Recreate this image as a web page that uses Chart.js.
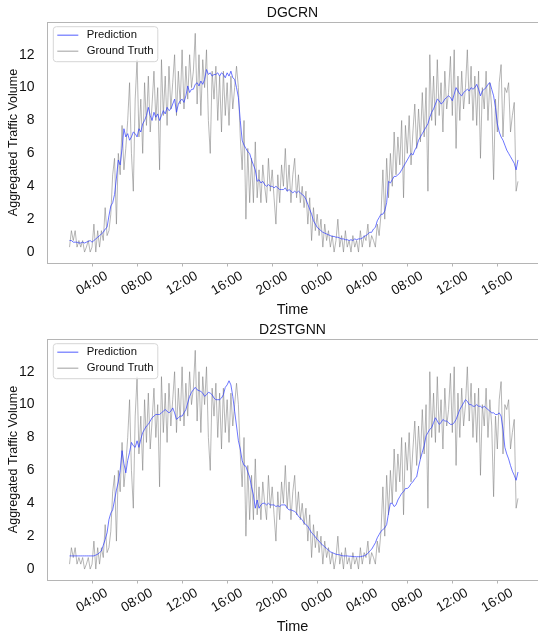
<!DOCTYPE html>
<html>
<head>
<meta charset="utf-8">
<script src="https://cdn.jsdelivr.net/npm/chart.js@4.4.1/dist/chart.umd.min.js"></script>
<style>
  html, body { margin: 0; padding: 0; background: #fff; }
  #wrap { position: relative; width: 538px; height: 638px; overflow: hidden; }
  canvas { position: absolute; left: 0; }
  #c1 { top: 0; }
  #c2 { top: 317px; }
</style>
</head>
<body>
<div id="wrap">
  <canvas id="c1" width="538" height="319"></canvas>
  <canvas id="c2" width="538" height="319"></canvas>
</div>
<script>
// 10-minute samples, first one at 02:00 on day 1 (hours counted from midnight)
const startHour = 2;
const stepMinutes = 10;

// one row per hour, 02:00 ... 17:50 next day
const groundTruth = [
  0.3, 1.3, 0.7, 1.3, 0.3, 0.7,
  0.3, 0.7, 0.0, 0.3, 0.7, 0.0,
  0.3, 1.7, 0.0, 1.3, 0.3, 1.3,
  0.7, 2.7, 1.0, 1.3, 2.3, 4.7,
  5.7, 1.7, 6.0, 4.7, 7.7, 5.0,
  6.3, 8.0, 10.3, 6.0, 3.7, 9.3,
  11.7, 7.0, 9.3, 6.0, 10.3, 7.7,
  10.7, 7.3, 9.0, 11.0, 8.0, 10.0,
  5.0, 11.7, 8.3, 10.7, 7.7, 11.3,
  8.7, 10.3, 12.0, 8.3, 11.0, 9.0,
  12.3, 8.7, 11.3, 9.3, 12.0, 10.0,
  11.0, 13.3, 9.0, 12.0, 8.3, 11.7,
  10.0, 12.3, 8.0, 6.0, 11.0, 9.3,
  11.3, 8.0, 10.7, 7.3, 11.0, 8.3,
  10.3, 7.7, 10.7, 8.7, 10.0, 11.3,
  10.0, 7.0, 5.0, 8.0, 2.0, 6.3,
  3.0, 5.7, 3.0, 6.7, 3.3, 5.0,
  3.0, 5.3, 4.0, 3.0, 5.7, 3.7,
  5.0, 3.3, 1.7, 4.7, 3.0, 5.3,
  4.0, 6.3, 3.7, 5.3, 3.0, 4.7,
  5.7, 3.3, 4.7, 3.0, 4.0, 2.7,
  3.7, 1.7, 3.3, 0.7, 2.7, 1.3,
  2.3, 1.0, 2.0, 0.3, 1.7, 0.7,
  1.3, 0.3, 1.0, 0.0, 0.7, 2.0,
  0.3, 1.0, 0.0, 1.3, 0.3, 0.7,
  0.0, 1.0, 0.3, 0.7, 0.0, 1.3,
  0.3, 1.0, 0.7, 1.7, 0.3, 1.0,
  0.7, 0.3, 1.7, 1.0, 2.3, 5.0,
  2.0, 5.7, 3.3, 6.0, 4.0, 7.3,
  4.7, 7.0, 5.3, 8.0, 3.3, 7.7,
  6.0, 8.3, 5.3, 7.3, 9.0, 6.3,
  8.7, 6.7, 9.7, 7.0, 10.0, 3.7,
  12.0, 8.0, 10.7, 7.7, 11.7, 8.3,
  10.3, 7.3, 11.0, 8.7, 9.7, 11.9,
  8.3, 12.3, 6.3, 10.7, 8.0, 11.0,
  8.7, 10.0, 12.3, 9.0, 11.3, 8.0,
  10.7, 7.7, 11.0, 5.7, 10.0, 8.7,
  11.0, 8.0, 10.3, 8.7, 4.4, 9.3,
  7.3, 10.3, 11.4, 7.0, 10.0, 9.7,
  10.3, 7.3, 8.3, 9.1, 3.7, 4.3
];

const dgcrnPred = [
  0.7, 0.7, 0.6, 0.6, 0.6, 0.55,
  0.55, 0.6, 0.55, 0.6, 0.65, 0.7,
  0.6, 0.7, 0.8, 0.9, 1.0, 1.1,
  1.2, 1.4, 1.5, 2.2, 2.8, 3.0,
  3.5, 4.5, 5.6, 5.3, 6.3, 7.5,
  7.0, 7.2, 6.8, 7.0, 7.3, 7.2,
  7.0, 7.5, 7.3, 7.8, 8.0, 8.3,
  8.8, 8.3, 8.0, 8.5, 8.2, 8.4,
  8.0, 8.3, 8.6, 8.4, 8.8, 8.6,
  8.7, 9.0, 9.3, 8.5, 9.0, 9.2,
  9.3, 9.1, 9.5, 10.1, 9.7, 9.9,
  9.9, 10.2, 10.3, 10.1, 10.4, 10.2,
  10.5, 11.1, 10.8, 10.9, 10.7, 10.8,
  10.8, 10.9, 10.7, 10.9, 10.8, 10.6,
  10.9, 10.7, 11.0, 10.6, 10.5, 10.0,
  9.4, 8.0, 6.8, 6.5, 6.3, 6.1,
  6.0, 5.6, 5.3, 5.0, 4.3, 4.4,
  4.2, 4.3, 4.1, 4.0, 4.1, 4.0,
  4.0, 3.9, 4.0, 3.9, 3.8, 3.8,
  3.8, 3.9, 3.7, 3.8, 3.7, 3.6,
  3.7, 3.6, 3.7, 3.6, 3.5, 3.4,
  3.2, 2.9, 2.6, 2.3, 1.9, 1.7,
  1.5, 1.4, 1.3, 1.2, 1.15, 1.1,
  1.05, 1.0, 0.95, 0.95, 0.9, 0.9,
  0.85, 0.8, 0.8, 0.75, 0.75, 0.7,
  0.75, 0.7, 0.8, 0.75, 0.8, 0.8,
  0.85, 0.95, 1.0, 1.1, 1.2, 1.2,
  1.4, 1.5, 1.9, 2.1, 2.3, 2.3,
  2.5, 3.0, 4.3, 4.2, 4.4, 4.6,
  4.6, 4.7, 4.8, 5.0, 5.2, 5.4,
  5.6, 5.8, 6.0, 5.9, 6.2, 6.4,
  6.8, 7.0, 7.2, 7.4, 7.6, 7.8,
  8.2, 8.5, 8.7, 9.0, 9.3, 9.2,
  9.0, 9.1, 9.3, 9.4, 9.5, 9.4,
  9.2, 9.6, 10.0, 9.8, 9.6, 9.5,
  9.7, 9.8, 9.9, 9.8, 10.0, 9.9,
  10.0, 10.2, 9.9, 9.5, 9.8, 9.9,
  10.0, 10.2, 10.3, 9.9, 9.5, 8.8,
  7.8, 7.3, 7.0, 6.8, 6.5, 6.2,
  6.0, 5.8, 5.6, 5.4, 5.0, 5.6
];

const d2stgnnPred = [
  0.8, 0.8, 0.8, 0.8, 0.8, 0.8,
  0.8, 0.8, 0.8, 0.8, 0.8, 0.8,
  0.8, 0.8, 0.85, 0.9, 1.0, 1.1,
  1.45, 1.8, 2.2, 3.0, 3.4, 3.6,
  4.2, 4.8, 5.3, 6.0, 7.2, 6.4,
  5.85, 6.6, 7.1, 7.7, 7.5, 7.4,
  7.8, 7.4, 7.9, 8.3, 8.5, 8.7,
  8.8, 9.0, 9.2, 9.3, 9.4, 9.4,
  9.4, 9.5, 9.6, 9.7, 9.6, 9.5,
  9.6, 9.8, 9.5, 9.1, 9.2, 9.3,
  9.3, 9.5, 9.7, 10.1, 10.5, 10.75,
  10.9, 11.05, 10.9, 10.85, 10.8, 10.7,
  10.5, 10.6, 10.75, 10.7, 10.6, 10.4,
  10.3, 10.3, 10.3, 10.4, 10.6, 11.05,
  11.2, 11.45, 11.2, 10.5, 9.6, 8.7,
  7.8, 7.3, 6.6, 6.3, 6.25, 5.9,
  5.6, 5.0, 4.5, 3.7, 4.2, 3.7,
  3.9, 4.0, 4.0, 3.9, 4.0, 3.9,
  3.9, 3.9, 3.8, 3.85, 3.8, 3.9,
  3.9, 3.9, 3.7, 3.6, 3.6, 3.55,
  3.5, 3.4, 3.2, 3.1, 3.0, 2.8,
  2.7, 2.6, 2.4, 2.2, 2.1, 1.95,
  1.8, 1.7, 1.55, 1.45, 1.35, 1.25,
  1.15, 1.05, 1.0, 0.95, 0.9, 0.88,
  0.86, 0.82, 0.8, 0.8, 0.8, 0.78,
  0.78, 0.76, 0.75, 0.75, 0.75, 0.75,
  0.78, 0.8, 0.86, 0.95, 1.1, 1.2,
  1.4, 1.6, 1.9, 2.1, 2.3, 2.4,
  2.5, 2.7, 3.4, 4.0, 4.0, 3.8,
  3.9, 4.2, 4.4, 4.6, 4.7, 4.9,
  4.9, 5.0, 5.2, 5.3, 5.5, 5.6,
  6.2, 6.7, 7.1, 7.5, 8.1, 8.3,
  8.5, 8.6, 8.9, 9.2, 9.0, 8.8,
  8.9, 9.1, 9.0, 9.0, 8.9, 8.8,
  8.8, 8.9, 9.1, 9.4, 9.7, 9.9,
  10.1, 10.3, 10.2, 10.0, 10.0, 9.9,
  9.9, 10.0, 9.9, 9.9, 9.8, 9.9,
  9.8, 9.7, 9.6, 9.5, 9.5, 9.4,
  9.4, 9.5, 9.3, 8.5, 7.4, 7.0,
  6.7, 6.3, 5.95, 5.7, 5.4, 5.9
];

// x tick positions (hours since 00:00 day 1)
const tickHours = [4, 8, 12, 16, 20, 24, 28, 32, 36, 40];

const blue = 'rgba(45, 60, 255, 0.7)';
const gray = 'rgba(125, 125, 125, 0.62)';
const spineColor = '#b5b5b5';
const textColor = '#111';

Chart.defaults.font.family = '"Liberation Sans", Arial, sans-serif';
Chart.defaults.color = textColor;

const times = groundTruth.map((_, i) => startHour + i * stepMinutes / 60);
const toXY = arr => arr.map((v, i) => ({ x: times[i], y: v }));
const fmtHour = v => String(v % 24).padStart(2, '0') + ':00';

// matplotlib-like top spine
const topSpine = {
  id: 'topSpine',
  afterDraw(chart) {
    const { ctx, chartArea: a } = chart;
    const y = Math.round(a.top) + 0.5;
    ctx.save();
    ctx.strokeStyle = spineColor;
    ctx.lineWidth = 1;
    ctx.beginPath();
    ctx.moveTo(a.left, y);
    ctx.lineTo(a.right, y);
    ctx.stroke();
    ctx.restore();
  }
};

// framed legend in the upper left corner of the plot
const legendBox = {
  id: 'legendBox',
  afterDatasetsDraw(chart) {
    const { ctx, chartArea: a } = chart;
    const x = a.left + 6.3, y = a.top + 4.7, w = 104.5, h = 35;
    ctx.save();
    ctx.fillStyle = 'rgba(255,255,255,0.8)';
    ctx.strokeStyle = '#d6d6d6';
    ctx.lineWidth = 1;
    ctx.beginPath();
    ctx.roundRect(x, y, w, h, 3);
    ctx.fill();
    ctx.stroke();
    ctx.font = '11.3px "Liberation Sans", Arial, sans-serif';
    ctx.textBaseline = 'middle';
    chart.data.datasets.forEach((ds, i) => {
      const cy = y + 8.5 + i * 16;
      ctx.strokeStyle = ds.borderColor;
      ctx.lineWidth = 1.2;
      ctx.beginPath();
      ctx.moveTo(x + 4, cy);
      ctx.lineTo(x + 25, cy);
      ctx.stroke();
      ctx.fillStyle = textColor;
      ctx.fillText(ds.label, x + 33.4, cy);
    });
    ctx.restore();
  }
};

function buildChart(id, title, pred) {
  return new Chart(document.getElementById(id), {
    type: 'line',
    data: {
      datasets: [
        { label: 'Prediction', data: toXY(pred), borderColor: blue, borderWidth: 1, pointRadius: 0, tension: 0 },
        { label: 'Ground Truth', data: toXY(groundTruth), borderColor: gray, borderWidth: 0.9, pointRadius: 0, tension: 0 }
      ]
    },
    options: {
      responsive: false,
      animation: false,
      devicePixelRatio: 1,
      layout: { padding: 0 },
      plugins: {
        legend: { display: false },
        tooltip: { enabled: false },
        title: {
          display: true, text: title, fullSize: false, color: textColor,
          font: { size: 14, weight: 'normal' }, padding: { top: 4.5, bottom: 0.7 }
        }
      },
      scales: {
        x: {
          type: 'linear', min: 0, max: 43.61,
          afterBuildTicks: s => { s.ticks = tickHours.map(v => ({ value: v })); },
          afterFit: s => { s.height = 56; },
          grid: { display: true, drawOnChartArea: false, drawTicks: true, tickLength: 3.5, color: spineColor },
          border: { display: true, color: spineColor, width: 1 },
          ticks: {
            autoSkip: false, minRotation: 30, maxRotation: 30, labelOffset: 14.5, padding: 1.5,
            font: { size: 13.5 }, color: textColor, callback: v => fmtHour(v)
          },
          title: { display: true, text: 'Time', color: textColor, font: { size: 14.5 }, padding: { top: 0, bottom: 0.6 } }
        },
        y: {
          min: -0.666, max: 13.99,
          afterFit: s => { s.width = 47; },
          grid: { display: false },
          border: { display: true, color: spineColor, width: 1 },
          ticks: { stepSize: 2, includeBounds: false, padding: 4.5, font: { size: 14 }, color: textColor, callback: v => String(v) },
          title: { display: true, text: 'Aggregated Traffic Volume', color: textColor, font: { size: 12.5 }, padding: { top: 6, bottom: 0 } }
        }
      }
    },
    plugins: [topSpine, legendBox]
  });
}

buildChart('c1', 'DGCRN', dgcrnPred);
buildChart('c2', 'D2STGNN', d2stgnnPred);
</script>
</body>
</html>
